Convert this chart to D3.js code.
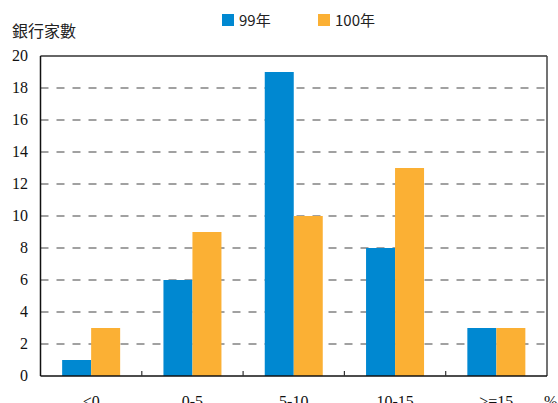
<!DOCTYPE html>
<html><head><meta charset="utf-8">
<script src="https://cdn.jsdelivr.net/npm/d3@7/dist/d3.min.js"></script>
<style>body{margin:0;background:#fff} .serif{font-family:"Liberation Serif","Tinos","DejaVu Serif",serif}</style>
</head><body><svg id="c" width="558" height="403"></svg>
<script>
const categories = ["<0", "0-5", "5-10", "10-15", ">=15"];
const series99 = [1, 6, 19, 8, 3];
const series100 = [3, 9, 10, 13, 3];
const seriesNames = ["99年", "100年"];
const yTicks = [0, 2, 4, 6, 8, 10, 12, 14, 16, 18, 20];
const colors = ["#0088d1", "#fbb034"];

const svg = d3.select("#c");
const L = 40.5, R = 547, T = 56, B = 376;
const x = d3.scaleBand().domain(categories).range([L, R]);
const y = d3.scaleLinear().domain([0, 20]).range([B, T]);

// grid
svg.append("g").selectAll("line").data(yTicks.filter(d => d > 0 && d < 20)).join("line")
  .attr("x1", L).attr("x2", R).attr("y1", d => y(d)).attr("y2", d => y(d))
  .attr("stroke", "#444").attr("stroke-width", 1.2).attr("stroke-dasharray", "8,8");

// bars
const inner = d3.scaleBand().domain([0, 1]).range([0, 58]);
const data = [series99, series100];
data.forEach((s, si) => {
  svg.append("g").selectAll("rect").data(s).join("rect")
    .attr("x", (d, i) => x(categories[i]) + x.bandwidth() / 2 - 29 + inner(si))
    .attr("width", inner.bandwidth())
    .attr("y", d => y(d)).attr("height", d => B - y(d))
    .attr("fill", colors[si]);
});

// frame
svg.append("line").attr("x1", L).attr("x2", R).attr("y1", T).attr("y2", T).attr("stroke", "#333").attr("stroke-width", 1.5);
svg.append("line").attr("x1", R).attr("x2", R).attr("y1", T).attr("y2", B).attr("stroke", "#444").attr("stroke-width", 1.5);
svg.append("line").attr("x1", L).attr("x2", L).attr("y1", T).attr("y2", B).attr("stroke", "#111").attr("stroke-width", 1.5);
svg.append("line").attr("x1", L).attr("x2", R).attr("y1", B).attr("y2", B).attr("stroke", "#111").attr("stroke-width", 1.5);

// x ticks between categories
svg.append("g").selectAll("line").data(categories.slice(1)).join("line")
  .attr("x1", d => x(d)).attr("x2", d => x(d)).attr("y1", B).attr("y2", B - 5)
  .attr("stroke", "#333").attr("stroke-width", 1.2);

// y labels
svg.append("g").selectAll("text").data(yTicks).join("text").attr("class", "serif")
  .attr("x", 28).attr("y", d => y(d) + 5).attr("text-anchor", "end")
  .attr("font-size", 16).attr("fill", "#111").text(d => d);

// x labels
svg.append("g").selectAll("text").data(categories).join("text").attr("class", "serif")
  .attr("x", d => x(d) + x.bandwidth() / 2).attr("y", 407).attr("text-anchor", "middle")
  .attr("font-size", 16).attr("fill", "#111").text(d => d);
svg.append("text").attr("class", "serif").attr("x", 544).attr("y", 407).attr("font-size", 16).attr("fill", "#111").text("%");

// title
svg.append("text").attr("x", 12).attr("y", 37).attr("font-family", "'Noto Sans CJK TC',sans-serif")
  .attr("font-size", 16).attr("fill", "#222").text("銀行家數");

// legend
const lx = [222, 318];
seriesNames.forEach((n, i) => {
  svg.append("rect").attr("x", lx[i]).attr("y", 14).attr("width", 12).attr("height", 12).attr("fill", colors[i]);
  svg.append("text").attr("x", lx[i] + 17).attr("y", 26).attr("font-family", "'Noto Sans CJK TC',sans-serif")
    .attr("font-size", 15).attr("fill", "#222").text(n);
});
</script></body></html>
